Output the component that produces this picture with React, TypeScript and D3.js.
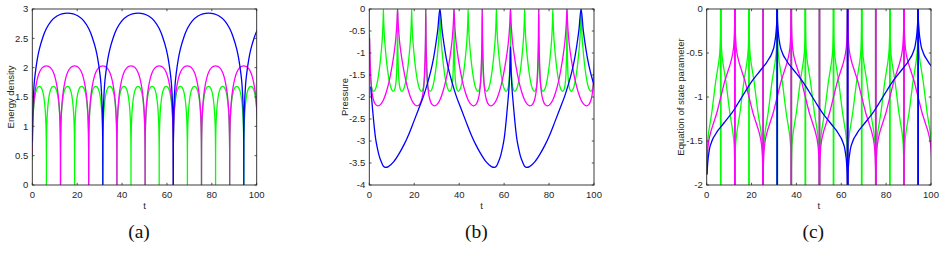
import React from "react";
import * as d3 from "d3";

type Pt = [number, number];

const W = 944;
const H = 268;
const TOP = 9;
const BOTTOM = 185;

const tTicks = [0, 20, 40, 60, 80, 100];
const energyTicks = [0, 0.5, 1, 1.5, 2, 2.5, 3];
const pressureTicks = [-4, -3.5, -3, -2.5, -2, -1.5, -1, -0.5, 0];
const eosTicks = [-2, -1.5, -1, -0.5, 0];

// draw order: green, magenta, blue
const seriesColors = ["#00ff00", "#ff00ff", "#0000ff"];

// times where each curve touches zero in (a), spikes in (b) and jumps in (c)
const greenNodes = [0, 6.28, 12.57, 18.85, 25.13, 31.42, 37.7, 43.98, 50.27, 56.55, 62.83, 69.12, 75.4, 81.68, 87.96, 94.25, 100.53];
const magentaNodes = [0, 12.57, 25.13, 37.7, 50.27, 62.83, 75.4, 87.96, 100.53];
const blueNodes = [0, 31.42, 62.83, 94.25, 125.66];

const energyPeak = [1.68, 2.03, 2.93];
const pressureLow = [-1.87, -2.2, -3.6];
// first sampled time of each curve in (b)
const pressureStart = [0, 0, 0.5];

// one arch of the energy density: [fraction of interval, fraction of peak]
const energyArch: Pt[] = [
  [0, 0], [0.001, 0.25], [0.004, 0.36], [0.012, 0.48], [0.025, 0.58], [0.045, 0.66],
  [0.07, 0.73], [0.1, 0.79], [0.15, 0.86], [0.2, 0.91], [0.27, 0.955], [0.35, 0.983],
  [0.42, 0.996], [0.5, 1], [0.58, 0.996], [0.65, 0.983], [0.73, 0.955], [0.8, 0.91],
  [0.85, 0.86], [0.9, 0.79], [0.93, 0.73], [0.955, 0.66], [0.975, 0.58], [0.988, 0.48],
  [0.996, 0.36], [0.999, 0.25], [1, 0],
];

// pressure between two spikes (green, magenta): [fraction, fraction of minimum]
const pressureArchFast: Pt[] = [
  [0, 0], [0.01, 0.3], [0.03, 0.55], [0.06, 0.75], [0.1, 0.87], [0.15, 0.94], [0.22, 0.985],
  [0.31, 1], [0.4, 0.985], [0.5, 0.94], [0.6, 0.86], [0.7, 0.75], [0.8, 0.6], [0.88, 0.45],
  [0.94, 0.3], [0.98, 0.13], [1, 0],
];

// pressure between two spikes (blue)
const pressureArchBlue: Pt[] = [
  [0, 0.24], [0.004, 0.32], [0.01, 0.4], [0.02, 0.49], [0.03, 0.55], [0.041, 0.605],
  [0.06, 0.7], [0.089, 0.817], [0.115, 0.88], [0.137, 0.922], [0.17, 0.965], [0.2, 0.993],
  [0.23, 1], [0.27, 0.995], [0.347, 0.964], [0.42, 0.915], [0.49, 0.858], [0.56, 0.79],
  [0.63, 0.711], [0.7, 0.63], [0.774, 0.542], [0.83, 0.46], [0.87, 0.394], [0.91, 0.31],
  [0.94, 0.228], [0.97, 0.13], [1, 0],
];

// equation of state between a jump at the bottom and a jump at the top: [fraction, w]
const eosRise: Pt[] = [
  [0, -2], [0.004, -1.88], [0.01, -1.8], [0.02, -1.7], [0.03, -1.64], [0.045, -1.57],
  [0.065, -1.52], [0.09, -1.47], [0.12, -1.43], [0.16, -1.38], [0.2, -1.34], [0.25, -1.29],
  [0.3, -1.24], [0.35, -1.19], [0.4, -1.13], [0.45, -1.065], [0.5, -1], [0.55, -0.935],
  [0.6, -0.87], [0.65, -0.81], [0.7, -0.76], [0.75, -0.71], [0.8, -0.66], [0.84, -0.62],
  [0.88, -0.57], [0.91, -0.53], [0.935, -0.48], [0.955, -0.43], [0.97, -0.36], [0.98, -0.3],
  [0.99, -0.2], [0.996, -0.12], [1, 0],
];

const seriesNodes = [greenNodes, magentaNodes, blueNodes];

const mirror = (arch: Pt[]): Pt[] => arch.map(([u, v]) => [1 - u, v] as Pt).reverse();

// chain the arches between consecutive nodes into one curve
const buildChain = (nodes: number[], arch: Pt[], scale: number, alternate: boolean, from = 0): Pt[] => {
  const pts: Pt[] = [];
  for (let i = 0; i < nodes.length - 1; i++) {
    const a = nodes[i];
    const b = nodes[i + 1];
    const seg = alternate && i % 2 === 1 ? mirror(arch) : arch;
    seg.forEach(([u, v], j) => {
      if (i > 0 && j === 0) return;
      pts.push([a + u * (b - a), v * scale]);
    });
  }
  return pts.filter((p) => p[0] > from);
};

// (c) is broken at every jump, so each piece gets its own path
const buildSegments = (nodes: number[], rise: Pt[]): Pt[][] =>
  nodes.slice(0, -1).map((a, i) => {
    const b = nodes[i + 1];
    const seg = i % 2 === 0 ? rise : mirror(rise);
    return seg.map(([u, v]) => [a + u * (b - a), v] as Pt).filter((p) => p[0] > 0);
  });

const energySeries = seriesNodes.map((n, k) => [buildChain(n, energyArch, energyPeak[k], false)]);
const pressureSeries = seriesNodes.map((n, k) => [
  buildChain(n, k === 2 ? pressureArchBlue : pressureArchFast, pressureLow[k], true, pressureStart[k]),
]);
const eosSeries = seriesNodes.map((n) => buildSegments(n, eosRise));
const eosJumps = seriesNodes.map((n) => n.filter((t) => t > 0 && t < 100));

const sans = "'Liberation Sans', Arial, Helvetica, sans-serif";
const ink = "#262626";

interface PanelProps {
  idx: number;
  left: number;
  right: number;
  yDomain: [number, number];
  yTicks: number[];
  yLabel: string;
  yLabelX: number;
  caption: string;
  captionX: number;
  series: Pt[][][];
  jumps?: number[][];
}

const Panel = ({ idx, left, right, yDomain, yTicks, yLabel, yLabelX, caption, captionX, series, jumps }: PanelProps) => {
  const x = d3.scaleLinear().domain([0, 100]).range([left, right]);
  const y = d3.scaleLinear().domain(yDomain).range([BOTTOM, TOP]);
  const line = d3
    .line<Pt>()
    .x((d) => x(d[0]))
    .y((d) => y(d[1]))
    .curve(d3.curveMonotoneX);
  const clipId = `plot-clip-${idx}`;
  const tick = 2.2;

  return (
    <g>
      <defs>
        <clipPath id={clipId}>
          <rect x={left} y={TOP} width={right - left} height={BOTTOM - TOP} />
        </clipPath>
      </defs>

      {/* curves */}
      <g clipPath={`url(#${clipId})`}>
        {series.map((segs, k) => (
          <g key={`s-${k}`}>
            {jumps &&
              jumps[k].map((t) => (
                <line key={`j-${t}`} x1={x(t)} x2={x(t)} y1={TOP} y2={BOTTOM} stroke={seriesColors[k]} strokeWidth={1.8} />
              ))}
            {segs.map((s, j) => (
              <path key={`p-${j}`} d={line(s) || ""} fill="none" stroke={seriesColors[k]} strokeWidth={1.3} />
            ))}
          </g>
        ))}
      </g>

      {/* box */}
      <rect x={left} y={TOP} width={right - left} height={BOTTOM - TOP} fill="none" stroke={ink} strokeWidth={0.9} />

      {/* x ticks */}
      {tTicks.map((t) => (
        <g key={`xt-${t}`}>
          <line x1={x(t)} x2={x(t)} y1={BOTTOM} y2={BOTTOM - tick} stroke={ink} strokeWidth={0.8} />
          <line x1={x(t)} x2={x(t)} y1={TOP} y2={TOP + tick} stroke={ink} strokeWidth={0.8} />
          <text x={x(t)} y={198} textAnchor="middle" fontSize={9.5} fontFamily={sans} fill={ink}>
            {t}
          </text>
        </g>
      ))}

      {/* y ticks */}
      {yTicks.map((v) => (
        <g key={`yt-${v}`}>
          <line x1={left} x2={left + tick} y1={y(v)} y2={y(v)} stroke={ink} strokeWidth={0.8} />
          <line x1={right} x2={right - tick} y1={y(v)} y2={y(v)} stroke={ink} strokeWidth={0.8} />
          <text x={left - 4} y={y(v)} dy="0.35em" textAnchor="end" fontSize={9.5} fontFamily={sans} fill={ink}>
            {String(v)}
          </text>
        </g>
      ))}

      {/* axis labels */}
      <text x={(left + right) / 2} y={209.3} textAnchor="middle" fontSize={9.5} fontFamily={sans} fill={ink}>
        t
      </text>
      <text
        transform={`translate(${yLabelX}, ${(TOP + BOTTOM) / 2}) rotate(-90)`}
        textAnchor="middle"
        fontSize={9.5}
        fontFamily={sans}
        fill={ink}
      >
        {yLabel}
      </text>

      {/* caption */}
      <text x={captionX} y={238} textAnchor="middle" fontSize={19.5} fontFamily="'Liberation Serif', 'Times New Roman', serif" fill="#111">
        {caption}
      </text>
    </g>
  );
};

const App = () => {
  return (
    <svg width={W} height={H} style={{ position: "absolute", left: 0, top: 0, background: "#fff" }}>
      <rect width={W} height={H} fill="#fff" />
      <Panel
        idx={0}
        left={32.3}
        right={256.7}
        yDomain={[0, 3]}
        yTicks={energyTicks}
        yLabel="Energy density"
        yLabelX={13.5}
        caption="(a)"
        captionX={139}
        series={energySeries}
      />
      <Panel
        idx={1}
        left={369.3}
        right={594}
        yDomain={[-4, 0]}
        yTicks={pressureTicks}
        yLabel="Pressure"
        yLabelX={348.3}
        caption="(b)"
        captionX={476.3}
        series={pressureSeries}
      />
      <Panel
        idx={2}
        left={706.7}
        right={931}
        yDomain={[-2, 0]}
        yTicks={eosTicks}
        yLabel="Equation of state parameter"
        yLabelX={684.3}
        caption="(c)"
        captionX={813.3}
        series={eosSeries}
        jumps={eosJumps}
      />
    </svg>
  );
};

export default App;
